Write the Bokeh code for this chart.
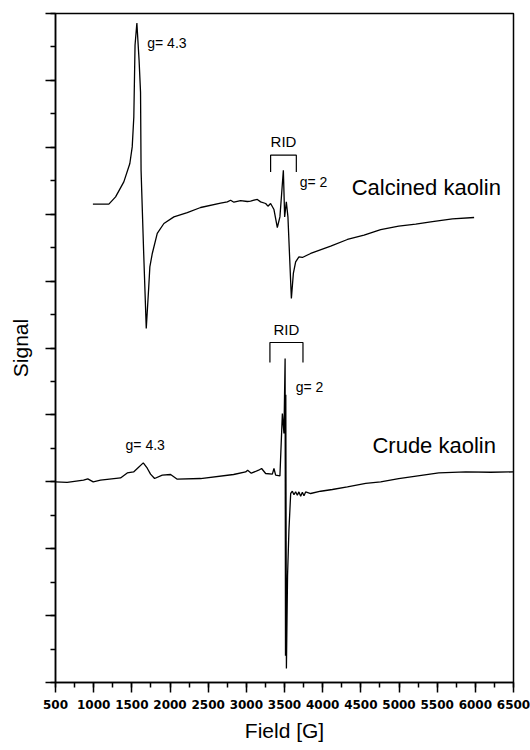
from bokeh.plotting import figure
from bokeh.models import SingleIntervalTicker, Range1d, CustomJSTickFormatter
from bokeh.core.properties import value
from bokeh.embed import file_html
from bokeh.resources import INLINE

# EPR spectra (field in gauss, signal in arbitrary units, traces offset vertically)
calcined_field = [990, 1199, 1287, 1395, 1474, 1505, 1526, 1542, 1566, 1595, 1614, 1621,
                  1654, 1689, 1719, 1736, 1768, 1833, 1920, 2051, 2226, 2401, 2663, 2751,
                  2794, 2837, 2925, 3013, 3056, 3100, 3144, 3187, 3253, 3283, 3318, 3362,
                  3406, 3440, 3463, 3485, 3502, 3524, 3545, 3590, 3616, 3646, 3689, 3734,
                  3843, 4105, 4324, 4542, 4760, 4996, 5219, 5438, 5700, 5984]
calcined_signal = [7.150, 7.150, 7.259, 7.483, 7.758, 8.006, 8.454, 9.526, 9.859, 9.302, 8.824, 7.658,
                   6.462, 5.291, 5.864, 6.212, 6.413, 6.712, 6.861, 6.960, 7.025, 7.100, 7.164, 7.184,
                   7.209, 7.179, 7.202, 7.190, 7.194, 7.209, 7.220, 7.184, 7.160, 7.120, 7.160, 7.070,
                   6.801, 6.960, 7.314, 7.658, 6.960, 7.184, 6.960, 5.740, 6.114, 6.287, 6.362, 6.353,
                   6.413, 6.522, 6.622, 6.686, 6.771, 6.821, 6.851, 6.888, 6.930, 6.951]

crude_field = [500, 653, 867, 923, 994, 1090, 1352, 1440, 1523, 1575, 1650, 1702, 1745,
               1798, 1899, 2008, 2095, 2401, 2833, 2991, 3017, 3065, 3161, 3200, 3253,
               3341, 3362, 3384, 3440, 3472, 3493, 3508, 3513, 3517, 3525, 3540, 3558,
               3581, 3603, 3624, 3646, 3668, 3689, 3712, 3734, 3755, 3777, 3843, 3974,
               4127, 4324, 4564, 4760, 4996, 5521, 5875, 6202, 6500]
crude_signal = [2.999, 2.990, 3.024, 3.043, 2.999, 3.024, 3.058, 3.133, 3.148, 3.203, 3.283, 3.203, 3.114,
                3.049, 3.099, 3.109, 3.039, 3.049, 3.109, 3.148, 3.173, 3.129, 3.173, 3.199, 3.124,
                3.114, 3.199, 3.099, 3.088, 4.021, 3.722, 4.843, 0.400, 4.300, 0.209, 1.600, 2.277,
                2.825, 2.859, 2.807, 2.852, 2.800, 2.849, 2.785, 2.844, 2.792, 2.849, 2.825, 2.859,
                2.885, 2.924, 2.975, 2.999, 3.049, 3.133, 3.148, 3.143, 3.148]

# text annotations: (field, signal) anchors
g_labels = ["g= 4.3", "g= 2", "g= 4.3", "g= 2"]
g_field = [1702, 3699, 1418, 3646]
g_signal = [9.56, 7.483, 3.547, 4.419]

sample_names = ["Calcined kaolin", "Crude kaolin"]
sample_field = [4380, 4652]
sample_signal = [7.396, 3.547]

# RID brackets: field span and vertical extent for each trace
rid_left = [3318, 3309]
rid_right = [3655, 3742]
rid_top = [7.882, 5.082]
rid_bottom = [7.632, 4.783]
rid_label_signal = [8.081, 5.281]

p = figure(width=530, height=750, output_backend="svg", toolbar_location=None,
           x_range=Range1d(500, 6500), y_range=Range1d(0, 10),
           min_border_left=55, min_border_right=17, min_border_top=13, min_border_bottom=68)
p.background_fill_color = "white"
p.border_fill_color = "white"
p.grid.visible = False
p.outline_line_color = "black"
p.outline_line_width = 1.5

p.line(calcined_field, calcined_signal, line_color="black", line_width=1.3)
p.line(crude_field, crude_signal, line_color="black", line_width=1.3)

p.text(g_field, g_signal, text=g_labels, text_font=value("Liberation Sans"),
       text_font_size="14px", text_baseline="middle", text_align="left", text_color="black")
p.text(sample_field, sample_signal, text=sample_names, text_font=value("Liberation Sans"),
       text_font_size="22px", text_baseline="middle", text_align="left", text_color="black")

for l, r, t, b, ls in zip(rid_left, rid_right, rid_top, rid_bottom, rid_label_signal):
    p.line([l, l, r, r], [b, t, t, b], line_color="black", line_width=1.2)
    p.text([(l + r) / 2], [ls], text=["RID"], text_font=value("Liberation Sans"),
           text_font_size="15px", text_baseline="middle", text_align="center", text_color="black")

# x axis
xa = p.xaxis[0]
xa.ticker = SingleIntervalTicker(interval=500, num_minor_ticks=2)
xa.axis_label = "Field [G]"
xa.axis_label_text_font = "Liberation Sans"
xa.axis_label_text_font_size = "21px"
xa.axis_label_text_font_style = "normal"
xa.axis_label_standoff = 7
xa.major_label_text_font = "DejaVu Sans"
xa.major_label_text_font_style = "bold"
xa.major_label_text_font_size = "12px"
xa.major_label_standoff = 7

# y axis (no numbers)
ya = p.yaxis[0]
ya.ticker = SingleIntervalTicker(interval=1, num_minor_ticks=2)
ya.formatter = CustomJSTickFormatter(code="return ''")
ya.axis_label = "Signal"
ya.axis_label_text_font = "Liberation Sans"
ya.axis_label_text_font_size = "21px"
ya.axis_label_text_font_style = "normal"
ya.axis_label_standoff = 14

for ax in (xa, ya):
    ax.axis_line_width = 1.5
    ax.axis_line_color = "black"
    ax.major_tick_line_width = 1.5
    ax.minor_tick_line_width = 1.5
    ax.major_tick_out = 10
    ax.major_tick_in = 0
    ax.minor_tick_out = 5
    ax.minor_tick_in = 0
    ax.major_label_text_color = "black"
    ax.axis_label_text_color = "black"

open("out.html", "w").write(file_html(p, INLINE))
